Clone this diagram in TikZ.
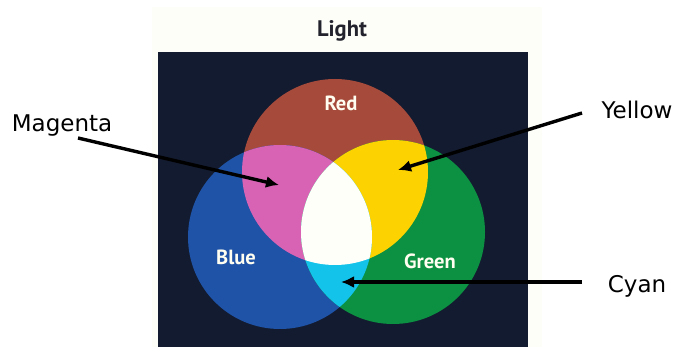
\documentclass[tikz,border=0pt]{standalone}
\usepackage{fontspec}
\setmainfont{DejaVu Sans}
\newfontfamily\myr{PT Sans}
\usetikzlibrary{arrows.meta}
\definecolor{navybg}{HTML}{131B30}
\definecolor{cream}{HTML}{FEFEF9}
\definecolor{cred}{HTML}{A64B3B}
\definecolor{cmag}{HTML}{D862B4}
\definecolor{cyel}{HTML}{FCD300}
\definecolor{cgrn}{HTML}{0C9142}
\definecolor{cblu}{HTML}{1E53A7}
\definecolor{ccya}{HTML}{14C3EA}
\definecolor{cwht}{HTML}{FFFFFA}
\definecolor{ttl}{HTML}{22232D}
\tikzset{
  inlab/.style={font=\myr\bfseries\fontsize{20.5}{22}\selectfont, text=white!94!yellow, inner sep=0pt},
  outlab/.style={font=\fontsize{23}{26}\selectfont, text=black, inner sep=0pt},
  arr/.style={line width=3.4pt, -{Latex[length=13pt,width=12pt]}}
}
\begin{document}
\begin{tikzpicture}[x=1pt,y=-1pt]
\useasboundingbox (0,0) rectangle (677,347);
\fill[white] (0,0) rectangle (677,347);
\fill[cream] (152,7) rectangle (542,347);
\fill[navybg] (158,52) rectangle (528,347);
\coordinate (cR) at (335,172);
\coordinate (cB) at (280,237);
\coordinate (cG) at (393,232);
% base circles
\fill[cred] (cR) circle (93pt);
\fill[cblu] (cB) circle (92pt);
\fill[cgrn] (cG) circle (92pt);
% pairwise overlaps
\begin{scope}\clip (cR) circle (93pt); \fill[cmag] (cB) circle (92pt); \end{scope}
\begin{scope}\clip (cR) circle (93pt); \fill[cyel] (cG) circle (92pt); \end{scope}
\begin{scope}\clip (cB) circle (92pt); \fill[ccya] (cG) circle (92pt); \end{scope}
% triple overlap
\begin{scope}\clip (cR) circle (93pt); \clip (cB) circle (92pt); \fill[cwht] (cG) circle (92pt); \end{scope}
% texts
\node[font=\myr\bfseries\fontsize{22.5}{24}\selectfont, text=ttl, inner sep=0pt] (light) at (342,31) {Light};
\node[inlab] (red) at (341,103) {Red};
\node[inlab] (blue) at (236,257) {Blue};
\node[inlab] (green) at (430,261) {Green};
\node[outlab] (mag) at (62,126) {Magenta};
\node[outlab] (yel) at (637,110) {Yellow};
\node[outlab] (cya) at (637,286) {Cyan};
% arrows
\coordinate (magT) at (78,138);
\coordinate (magH) at (279,185);
\coordinate (yelT) at (582,113);
\coordinate (yelH) at (398,170);
\coordinate (cyaT) at (582,282);
\coordinate (cyaH) at (341,282);
\draw[arr] (magT) -- (magH);
\draw[arr] (yelT) -- (yelH);
\draw[arr] (cyaT) -- (cyaH);
\end{tikzpicture}
\end{document}
